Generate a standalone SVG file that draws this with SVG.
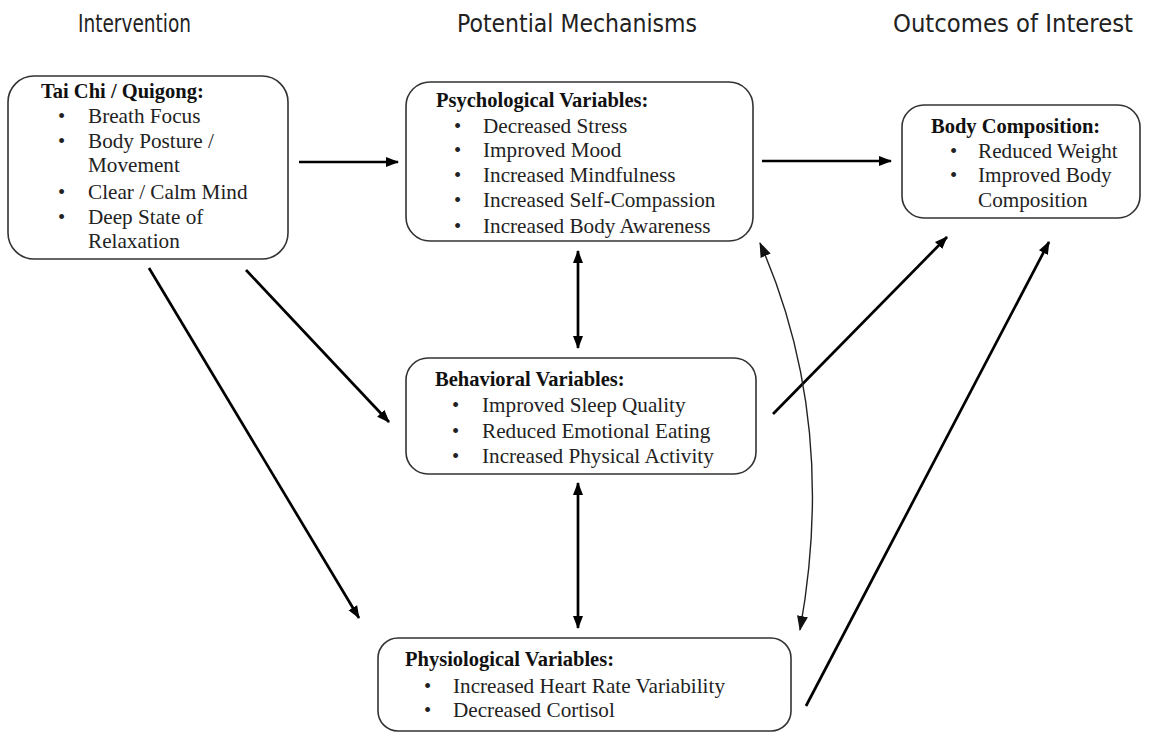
<svg xmlns="http://www.w3.org/2000/svg" width="1151" height="733" viewBox="0 0 1151 733">
  <style>
    .hdr { font-family: "DejaVu Sans Condensed", "DejaVu Sans", sans-serif; font-size: 25px; fill: #222; }
    .box { fill: #fff; stroke: #333; stroke-width: 1.6; }
    .ttl { font-family: "Liberation Serif", "Times New Roman", serif; font-size: 20.5px; font-weight: bold; fill: #111; }
    .itm { font-family: "Liberation Serif", "Times New Roman", serif; font-size: 21.2px; fill: #222; }
    .bul { font-family: "Liberation Serif", "Times New Roman", serif; font-size: 20.5px; fill: #222; }
    .arr { fill: none; stroke: #000; stroke-width: 2.7; }
    .thin { fill: none; stroke: #222; stroke-width: 1.4; }
  </style>
  <defs>
    <marker id="head" markerUnits="userSpaceOnUse" markerWidth="14" markerHeight="12" refX="12" refY="6" orient="auto-start-reverse">
      <path d="M0,1 L13,6 L0,11 Z" fill="#000"/>
    </marker>
    <marker id="headSmall" markerUnits="userSpaceOnUse" markerWidth="16" markerHeight="14" refX="14" refY="7" orient="auto-start-reverse">
      <path d="M0,1.5 L15,7 L0,12.5 Z" fill="#111"/>
    </marker>
  </defs>
  <rect width="1151" height="733" fill="#fff"/>

  <!-- column headings -->
  <g id="headings">
    <text class="hdr" x="78" y="32" textLength="113" lengthAdjust="spacingAndGlyphs">Intervention</text>
    <text class="hdr" x="457" y="32" textLength="240" lengthAdjust="spacingAndGlyphs">Potential Mechanisms</text>
    <text class="hdr" x="893" y="32" textLength="240" lengthAdjust="spacingAndGlyphs">Outcomes of Interest</text>
  </g>

  <!-- connectors -->
  <g id="connectors">
    <line class="arr" x1="299" y1="162" x2="398" y2="162" marker-end="url(#head)"/>
    <line class="arr" x1="762" y1="161" x2="891" y2="161" marker-end="url(#head)"/>
    <line class="arr" x1="578" y1="251" x2="578" y2="348" marker-start="url(#head)" marker-end="url(#head)"/>
    <line class="arr" x1="578" y1="483" x2="578" y2="628" marker-start="url(#head)" marker-end="url(#head)"/>
    <line class="arr" x1="246" y1="270" x2="389" y2="422" marker-end="url(#head)"/>
    <line class="arr" x1="149" y1="268" x2="359" y2="618" marker-end="url(#head)"/>
    <line class="arr" x1="773" y1="414" x2="947" y2="237" marker-end="url(#head)"/>
    <line class="arr" x1="806" y1="706" x2="1049" y2="242" marker-end="url(#head)"/>
    <path class="thin" d="M760,243 Q838,420 800,630" marker-start="url(#headSmall)" marker-end="url(#headSmall)"/>
  </g>

  <!-- intervention -->
  <g id="taichi">
    <rect class="box" x="8" y="76" width="280" height="183" rx="26"/>
    <text class="ttl" x="41" y="98">Tai Chi / Quigong:</text>
    <text class="bul" x="58" y="123">•</text><text class="itm" x="88" y="123">Breath Focus</text>
    <text class="bul" x="58" y="148">•</text><text class="itm" x="88" y="148">Body Posture /</text>
    <text class="itm" x="88" y="172">Movement</text>
    <text class="bul" x="58" y="199">•</text><text class="itm" x="88" y="199">Clear / Calm  Mind</text>
    <text class="bul" x="58" y="224">•</text><text class="itm" x="88" y="224">Deep State of</text>
    <text class="itm" x="88" y="248">Relaxation</text>
  </g>

  <!-- mechanisms -->
  <g id="psychological">
    <rect class="box" x="406" y="82" width="347" height="159" rx="24"/>
    <text class="ttl" x="436" y="107">Psychological Variables:</text>
    <text class="bul" x="454" y="133">•</text><text class="itm" x="483" y="133">Decreased Stress</text>
    <text class="bul" x="454" y="157">•</text><text class="itm" x="483" y="157">Improved Mood</text>
    <text class="bul" x="454" y="182">•</text><text class="itm" x="483" y="182">Increased Mindfulness</text>
    <text class="bul" x="454" y="207">•</text><text class="itm" x="483" y="207">Increased Self-Compassion</text>
    <text class="bul" x="454" y="233">•</text><text class="itm" x="483" y="233">Increased Body Awareness</text>
  </g>

  <g id="behavioral">
    <rect class="box" x="406" y="358" width="350" height="116" rx="22"/>
    <text class="ttl" x="435" y="386">Behavioral  Variables:</text>
    <text class="bul" x="452" y="412">•</text><text class="itm" x="482" y="412">Improved Sleep Quality</text>
    <text class="bul" x="452" y="438">•</text><text class="itm" x="482" y="438">Reduced Emotional  Eating</text>
    <text class="bul" x="452" y="463">•</text><text class="itm" x="482" y="463">Increased Physical Activity</text>
  </g>

  <g id="physiological">
    <rect class="box" x="378" y="638" width="413" height="93" rx="20"/>
    <text class="ttl" x="405" y="666">Physiological Variables:</text>
    <text class="bul" x="424" y="693">•</text><text class="itm" x="453" y="693">Increased Heart Rate Variability</text>
    <text class="bul" x="424" y="717">•</text><text class="itm" x="453" y="717">Decreased Cortisol</text>
  </g>

  <!-- outcome -->
  <g id="bodycomposition">
    <rect class="box" x="902" y="105" width="238" height="113" rx="22"/>
    <text class="ttl" x="931" y="133">Body  Composition:</text>
    <text class="bul" x="950" y="158">•</text><text class="itm" x="978" y="158">Reduced Weight</text>
    <text class="bul" x="950" y="182">•</text><text class="itm" x="978" y="182">Improved Body</text>
    <text class="itm" x="978" y="207">Composition</text>
  </g>
</svg>
